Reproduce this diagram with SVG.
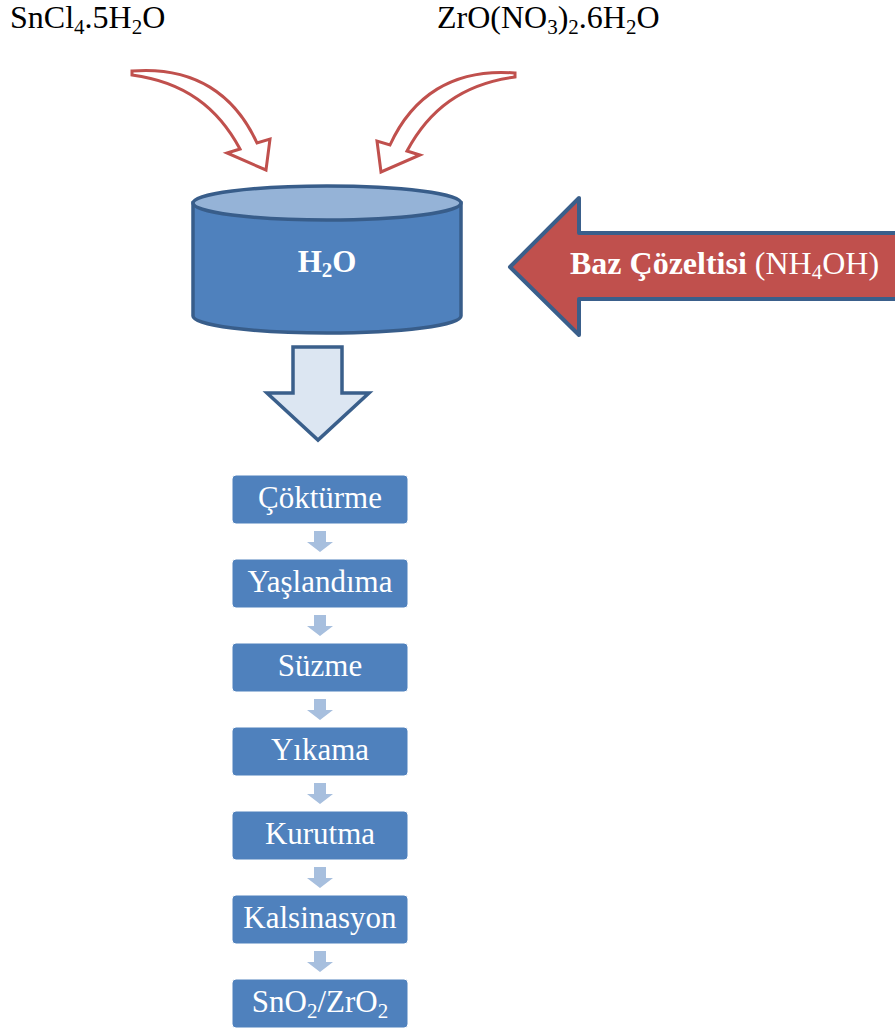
<svg xmlns="http://www.w3.org/2000/svg" width="895" height="1030" viewBox="0 0 895 1030">
<style>
.box{fill:#4F81BD;stroke:#FFFFFF;stroke-width:1;}
.small{fill:#A7BFDE;}
.curve{fill:#FFFFFF;stroke:#C0504D;stroke-width:3;stroke-linejoin:miter;}
</style>
<defs>
<path id="carrow" d="M132,71 C195,66 235,95 257,143 L270,139 L266,170 L227,153 L240,149 C218,108 185,82 132,75 Z"/>
<path id="sarrow" d="M314,0 L326,0 L326,11 L333,11 L320,21 L307,11 L314,11 Z"/>
</defs>

<g id="label-sncl4">
<text font-family="Liberation Serif, serif" font-size="32" fill="#000000" x="10" y="28">SnCl<tspan font-size="21" dy="6">4</tspan><tspan dy="-6">.5H</tspan><tspan font-size="21" dy="6">2</tspan><tspan dy="-6">O</tspan></text>
</g>
<g id="label-zro">
<text font-family="Liberation Serif, serif" font-size="32" fill="#000000" x="437" y="28">ZrO(NO<tspan font-size="21" dy="6">3</tspan><tspan dy="-6">)</tspan><tspan font-size="21" dy="6">2</tspan><tspan dy="-6">.6H</tspan><tspan font-size="21" dy="6">2</tspan><tspan dy="-6">O</tspan></text>
</g>

<g id="connectors">
<use href="#carrow" class="curve"/>
<use href="#carrow" class="curve" transform="translate(647,2) scale(-1,1)"/>
<path d="M293,347 L342,347 L342,393 L369,393 L318,440 L267,393 L293,393 Z" fill="#DCE6F2" stroke="#3A5F8B" stroke-width="3.5" stroke-linejoin="miter"/>
<use href="#sarrow" class="small" transform="translate(0,531)"/>
<use href="#sarrow" class="small" transform="translate(0,615)"/>
<use href="#sarrow" class="small" transform="translate(0,699)"/>
<use href="#sarrow" class="small" transform="translate(0,783)"/>
<use href="#sarrow" class="small" transform="translate(0,867)"/>
<use href="#sarrow" class="small" transform="translate(0,951)"/>
</g>

<g id="tank">
<path d="M193,203 L193,316 A134,17 0 0 0 461,316 L461,203 Z" fill="#4F81BD" stroke="#385D8A" stroke-width="3.5"/>
<ellipse cx="327" cy="203" rx="134" ry="17" fill="#95B3D7" stroke="#385D8A" stroke-width="3.5"/>
<text font-family="Liberation Serif, serif" x="327" y="272" font-size="31" font-weight="bold" fill="#FFFFFF" text-anchor="middle">H<tspan font-size="21" dy="5">2</tspan><tspan dy="-5">O</tspan></text>
</g>

<g id="base-arrow">
<path d="M510,267 L579,198 L579,233 L899,233 L899,299 L579,299 L579,335 Z" fill="#C0504D" stroke="#3A5F8B" stroke-width="4" stroke-linejoin="round"/>
<text font-family="Liberation Serif, serif" x="570" y="274" font-size="32" fill="#FFFFFF"><tspan font-weight="bold">Baz Çözeltisi</tspan> (NH<tspan font-size="21" dy="5">4</tspan><tspan dy="-5">OH)</tspan></text>
</g>

<g id="step-cokturme">
<rect class="box" x="232" y="475" width="176" height="49" rx="4"/>
<text font-family="Liberation Serif, serif" font-size="31" fill="#FFFFFF" text-anchor="middle" x="320" y="508">Çöktürme</text>
</g>
<g id="step-yaslandima">
<rect class="box" x="232" y="559" width="176" height="49" rx="4"/>
<text font-family="Liberation Serif, serif" font-size="31" fill="#FFFFFF" text-anchor="middle" x="320" y="592">Yaşlandıma</text>
</g>
<g id="step-suzme">
<rect class="box" x="232" y="643" width="176" height="49" rx="4"/>
<text font-family="Liberation Serif, serif" font-size="31" fill="#FFFFFF" text-anchor="middle" x="320" y="676">Süzme</text>
</g>
<g id="step-yikama">
<rect class="box" x="232" y="727" width="176" height="49" rx="4"/>
<text font-family="Liberation Serif, serif" font-size="31" fill="#FFFFFF" text-anchor="middle" x="320" y="760">Yıkama</text>
</g>
<g id="step-kurutma">
<rect class="box" x="232" y="811" width="176" height="49" rx="4"/>
<text font-family="Liberation Serif, serif" font-size="31" fill="#FFFFFF" text-anchor="middle" x="320" y="844">Kurutma</text>
</g>
<g id="step-kalsinasyon">
<rect class="box" x="232" y="895" width="176" height="49" rx="4"/>
<text font-family="Liberation Serif, serif" font-size="31" fill="#FFFFFF" text-anchor="middle" x="320" y="928">Kalsinasyon</text>
</g>
<g id="step-product">
<rect class="box" x="232" y="979" width="176" height="49" rx="4"/>
<text font-family="Liberation Serif, serif" font-size="31" fill="#FFFFFF" text-anchor="middle" x="320" y="1012">SnO<tspan font-size="21" dy="6">2</tspan><tspan dy="-6">/ZrO</tspan><tspan font-size="21" dy="6">2</tspan></text>
</g>
</svg>
